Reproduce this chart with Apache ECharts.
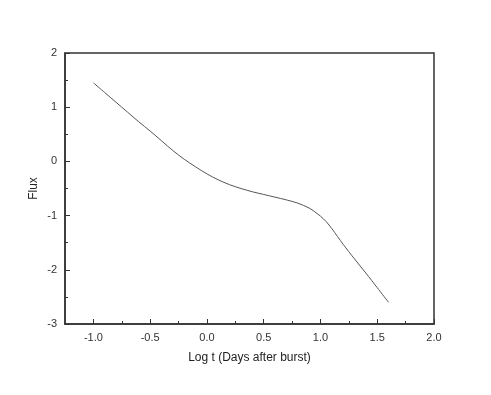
<!DOCTYPE html>
<html>
<head>
<meta charset="utf-8">
<script src="https://cdn.jsdelivr.net/npm/echarts@6/dist/echarts.min.js"></script>
<style>
  html, body { margin: 0; padding: 0; background: #fff; }
  #main { width: 491px; height: 395px; }
</style>
</head>
<body>
<div id="main"></div>
<script>
// log t (days after burst) and flux
var logT = [-1.0, -0.9, -0.8, -0.7, -0.6, -0.5, -0.4, -0.3, -0.2, -0.1,
            0.0, 0.1, 0.2, 0.3, 0.4, 0.5, 0.6, 0.7, 0.8, 0.9,
            0.95, 1.0, 1.05, 1.1, 1.2, 1.3, 1.4, 1.5, 1.6];
var flux = [1.45, 1.27, 1.09, 0.91, 0.73, 0.56, 0.38, 0.20, 0.04, -0.10,
            -0.23, -0.34, -0.43, -0.50, -0.56, -0.61, -0.66, -0.71, -0.77, -0.86,
            -0.93, -1.01, -1.11, -1.24, -1.53, -1.80, -2.06, -2.33, -2.60];
var xMajor = [-1.0, -0.5, 0.0, 0.5, 1.0, 1.5, 2.0];
var xMinor = [-0.75, -0.25, 0.25, 0.75, 1.25, 1.75];

var myChart = echarts.init(document.getElementById('main'));
var font = 'Liberation Sans';
var axisColor = '#333';

var points = logT.map(function (t, i) { return [t, flux[i]]; });

var option = {
    animation: false,
    grid: {
        left: 65, right: 57, top: 53, bottom: 71,
        show: true, borderColor: axisColor, borderWidth: 1.5,
        backgroundColor: 'transparent'
    },
    xAxis: [{
        type: 'value',
        min: -1.25, max: 2.0,
        name: 'Log t (Days after burst)',
        nameLocation: 'middle',
        nameGap: 28,
        nameTextStyle: { fontFamily: font, fontSize: 12, color: '#222' },
        axisLine: { onZero: false, lineStyle: { color: axisColor, width: 1.5 } },
        axisTick: { inside: true, length: 5, customValues: xMajor, lineStyle: { color: axisColor } },
        axisLabel: {
            customValues: xMajor, fontFamily: font, fontSize: 11, color: '#333', margin: 8,
            formatter: function (v) { return v.toFixed(1); }
        },
        splitLine: { show: false }
    }, {
        type: 'value',
        min: -1.25, max: 2.0,
        position: 'bottom',
        axisLine: { show: false, onZero: false },
        axisTick: { inside: true, length: 3, customValues: xMinor, lineStyle: { color: axisColor } },
        axisLabel: { show: false },
        splitLine: { show: false }
    }],
    yAxis: {
        type: 'value',
        min: -3, max: 2, interval: 1,
        name: 'Flux',
        nameLocation: 'middle',
        nameGap: 25,
        nameMoveOverlap: false,
        nameTextStyle: { fontFamily: font, fontSize: 12, color: '#222' },
        axisLine: { onZero: false, lineStyle: { color: axisColor, width: 1.5 } },
        axisTick: { inside: true, length: 5, lineStyle: { color: axisColor } },
        minorTick: { show: true, splitNumber: 2, length: 3, lineStyle: { color: axisColor } },
        axisLabel: { fontFamily: font, fontSize: 11, color: '#333', margin: 8 },
        splitLine: { show: false }
    },
    series: [{
        type: 'line',
        data: points,
        smooth: 0.3,
        symbol: 'none',
        lineStyle: { color: '#555', width: 1 }
    }]
};
myChart.setOption(option);
</script>
</body>
</html>
